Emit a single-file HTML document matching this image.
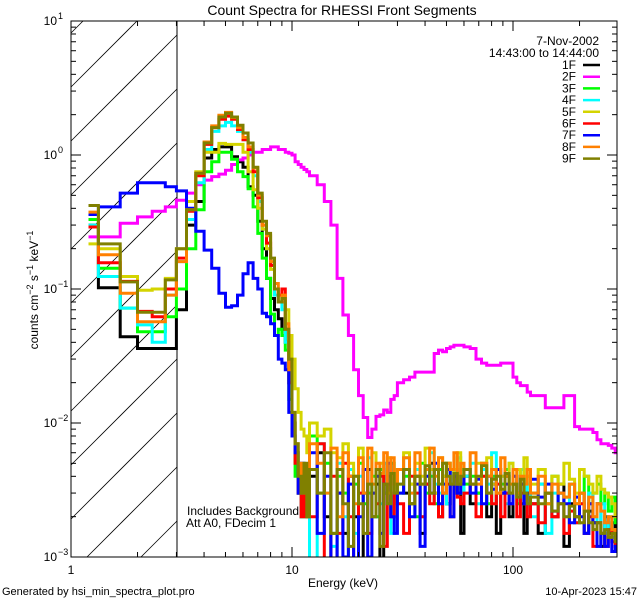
<!DOCTYPE html>
<html><head><meta charset="utf-8"><style>
html,body{margin:0;padding:0;background:#fff;overflow:hidden;width:640px;height:600px;}
svg{display:block;}
svg text{font-family:"Liberation Sans",sans-serif;}
</style></head><body>
<svg id="chart" width="640" height="600" viewBox="0 0 640 600" xmlns="http://www.w3.org/2000/svg">
<defs><clipPath id="plotclip"><rect x="71" y="21" width="546" height="536"/></clipPath></defs>
<rect x="0" y="0" width="640" height="600" fill="#fff"/>
<text x="342" y="15" font-size="14" text-anchor="middle">Count Spectra for RHESSI Front Segments</text>
<g id="hatch"></g>
<line x1="177" y1="21" x2="177" y2="557" stroke="#000" stroke-width="1"/>
<g id="series" clip-path="url(#plotclip)"></g>
<rect x="71" y="21" width="546" height="536" fill="none" stroke="#000" stroke-width="1"/>
<g id="ticks"></g>
<g id="labels" font-size="12"></g>
<text x="599" y="45" font-size="12" text-anchor="end">7-Nov-2002</text>
<text x="599" y="57" font-size="12" text-anchor="end">14:43:00 to 14:44:00</text>
<g id="legend" font-size="12"></g>
<text x="187" y="515" font-size="12">Includes Background</text>
<text x="186" y="527" font-size="12">Att A0, FDecim 1</text>
<text x="343" y="587" font-size="12" text-anchor="middle">Energy (keV)</text>
<text transform="translate(38,290) rotate(-90)" font-size="12" text-anchor="middle">counts cm<tspan dy="-5" font-size="9">−2</tspan><tspan dy="5"> s</tspan><tspan dy="-5" font-size="9">−1</tspan><tspan dy="5"> keV</tspan><tspan dy="-5" font-size="9">−1</tspan></text>
<text x="2" y="595" font-size="11">Generated by hsi_min_spectra_plot.pro</text>
<text x="637" y="595" font-size="11" text-anchor="end">10-Apr-2023 15:47</text>
</svg>
<script>
const edges=[1.2,1.33,1.67,2.0,2.33,2.67,3.0,3.33,3.67,4.0,4.33,4.67,5.0,5.33,5.67,6.0,6.33,6.67,7.0,7.33,7.67,8.0,8.33,8.67,9.0,9.33,9.67,10.0,10.33,10.67,11.0,11.33,11.67,
12,13,14,15,16,17,18,19,20,21,22,23,24,25,26,27,28,29,30,
32,34,36,38,40,42,44,46,48,50,52,54,56,58,60,
64,68,72,76,80,84,88,92,96,100,104,108,112,116,120,
130,140,150,160,170,180,190,200,210,220,230,240,250,260,270,280,290,300];
const seriesNames=["1F","2F","3F","4F","5F","6F","7F","8F","9F"];
const seriesColors=["#000000","#ff00ff","#00ff00","#00ffff","#d4d400","#ff0000","#0000ff","#ff8000","#808000"];
const s1F=[0.30,0.102,0.044,0.036,0.036,0.036,0.07,0.30,0.45,0.95,1.1,1.15,1.15,0.97,0.89,0.81,0.58,0.5,0.32,0.2,0.12,0.085,0.07,0.06,0.05,0.04,0.02,0.01,0.005,0.003,0.002,0.004,0.002,
 0.004,0.006,0.002,0,0.003,0.0015,0.004,0.002,0,0.003,0.0045,0.002,0.0035,0,0.003,0.004,0.002,0.003,
 0.0045,0.003,0.0025,0.004,0.0015,0.0035,0.005,0.003,0.002,0.004,0.0025,0.0035,0.0045,0.003,0.0015,
 0.004,0.0025,0.003,0.0045,0.002,0.0035,0.0015,0.003,0.004,0.002,0.0035,0.003,0.0025,0.0015,0.003,
 0.0025,0.0015,0.003,0.002,0.0035,0.0012,0.0025,0.002,0.003,0.0015,0.0022,0.0018,0.0025,0.0012,0.002,0.0015,0.0018,0.0014];
const s2F=[0.245,0.245,0.31,0.345,0.38,0.41,0.46,0.52,0.6,0.65,0.69,0.72,0.77,0.85,0.92,0.95,1.0,1.05,1.05,1.1,1.1,1.15,1.15,1.1,1.1,1.05,1.03,1.0,0.89,0.85,0.81,0.78,0.75,
 0.7,0.6,0.45,0.3,0.12,0.064,0.045,0.025,0.016,0.011,0.0078,0.009,0.0112,0.0115,0.0125,0.012,0.015,0.016,
 0.02,0.021,0.022,0.024,0.024,0.024,0.024,0.033,0.035,0.034,0.036,0.037,0.038,0.038,0.038,
 0.037,0.036,0.03,0.028,0.027,0.027,0.027,0.028,0.028,0.028,0.022,0.02,0.019,0.019,0.017,
 0.016,0.016,0.013,0.013,0.013,0.016,0.016,0.0094,0.009,0.009,0.009,0.0085,0.0075,0.007,0.007,0.0068,0.0065,0.006];
const s3F=[0.33,0.143,0.072,0.048,0.048,0.062,0.1,0.2,0.39,0.75,0.89,1.05,1.05,0.93,0.75,0.69,0.56,0.41,0.26,0.17,0.12,0.065,0.045,0.05,0.045,0.035,0.015,0.008,0.004,0.003,0.002,0.003,0.002,
 0.008,0.003,0.005,0.0015,0.004,0.003,0,0.0035,0.005,0.0025,0.003,0.004,0.002,0.0045,0.003,0.0035,0.005,0.0025,
 0.003,0.004,0.0035,0.002,0.005,0.003,0.004,0.0025,0.0045,0.003,0.005,0.0035,0.004,0.003,0.0045,
 0.0035,0.004,0.003,0.005,0.0025,0.004,0.003,0.0035,0.0045,0.003,0.004,0.0025,0.0035,0.003,0.004,
 0.003,0.0035,0.0025,0.004,0.003,0.0028,0.0035,0.0025,0.003,0.004,0.0025,0.003,0.0035,0.0025,0.003,0.0022,0.0028,0.0018];
const s4F=[0.30,0.124,0.072,0.054,0.04,0.09,0.16,0.33,0.62,1.1,1.5,1.65,1.75,1.65,1.5,1.3,1.05,0.7,0.45,0.28,0.2,0.15,0.09,0.08,0.07,0.04,0.02,0.01,0.006,0.003,0.002,0.004,0.003,
 0,0.007,0.003,0.0012,0.005,0.002,0.0045,0.0015,0.004,0.003,0.0055,0.002,0.004,0.0025,0.005,0.003,0.0015,0.004,
 0.0035,0.0055,0.003,0.0045,0.002,0.004,0.006,0.0035,0.003,0.005,0.0025,0.0045,0.0035,0.0055,0.003,
 0.004,0.005,0.0025,0.0045,0.0035,0.006,0.003,0.004,0.0025,0.005,0.0035,0.003,0.0045,0.0025,0.0035,
 0.002,0.0035,0.0015,0.003,0.0025,0.002,0.0035,0.0018,0.0025,0.0015,0.003,0.002,0.0018,0.0025,0.0015,0.002,0.0016,0.0014];
const s5F=[0.217,0.2,0.124,0.098,0.1,0.12,0.2,0.45,0.75,1.05,1.05,1.22,1.2,1.2,1.2,1.05,0.75,0.55,0.4,0.28,0.2,0.14,0.1,0.09,0.08,0.07,0.045,0.03,0.018,0.012,0.009,0.008,0.006,
 0.01,0.008,0.009,0.006,0.0055,0.007,0.005,0.004,0.0065,0.0045,0.0035,0.006,0.004,0.005,0.0035,0.0055,0.004,0.003,
 0.0045,0.006,0.0035,0.005,0.004,0.0065,0.0045,0.003,0.0055,0.004,0.005,0.0035,0.0045,0.006,0.004,
 0.0045,0.0035,0.005,0.004,0.0055,0.0035,0.0045,0.004,0.003,0.005,0.0035,0.0045,0.004,0.0055,0.004,
 0.0035,0.0045,0.003,0.004,0.0035,0.005,0.0038,0.003,0.0045,0.004,0.0035,0.003,0.004,0.0032,0.003,0.0028,0.0025,0.002];
const s6F=[0.29,0.157,0.114,0.068,0.062,0.1,0.17,0.38,0.7,1.2,1.6,1.85,1.95,1.85,1.55,1.3,1.1,0.75,0.48,0.3,0.22,0.15,0.1,0.09,0.1,0.05,0.02,0.01,0.005,0.003,0.002,0.003,0.002,
 0.002,0.007,0,0.004,0.0015,0.005,0.002,0,0.003,0.0045,0.0015,0.003,0.0025,0.004,0.0012,0.0035,0.002,0.003,
 0.0025,0.0015,0.004,0.003,0.002,0.0035,0.0025,0.0045,0.002,0.003,0.0035,0.002,0.004,0.0028,0.0025,
 0.003,0.0035,0.002,0.004,0.003,0.0025,0.0035,0.002,0.003,0.0025,0.0035,0.002,0.003,0.0025,0.002,
 0.0025,0.0018,0.003,0.002,0.0025,0.0015,0.0022,0.0018,0.0025,0.0015,0.002,0.0012,0.0018,0.0015,0.0012,0.0016,0.0013,0.0012];
const s7F=[0.36,0.41,0.52,0.62,0.62,0.58,0.54,0.40,0.27,0.195,0.143,0.093,0.073,0.075,0.09,0.13,0.157,0.12,0.1,0.066,0.062,0.055,0.045,0.03,0.028,0.025,0.012,0.008,0.006,0.003,0.005,0.004,0.003,
 0.006,0.0015,0.004,0,0.003,0.001,0.0035,0,0.002,0.0045,0.001,0.003,0.004,0.0015,0.0035,0.005,0.002,0.0015,
 0.003,0.0045,0.002,0.0035,0.0012,0.004,0.003,0.005,0.0025,0.0035,0.0045,0.002,0.004,0.003,0.0035,
 0.0045,0.003,0.0038,0.0025,0.004,0.0032,0.0045,0.003,0.0035,0.0025,0.004,0.003,0.0035,0.0025,0.003,
 0.0038,0.0028,0.0035,0.0022,0.003,0.0025,0.0018,0.0028,0.002,0.0015,0.0025,0.0018,0.0012,0.0015,0.0012,0.0014,0.0011,0.0012];
const s8F=[0.375,0.18,0.093,0.057,0.057,0.09,0.16,0.39,0.73,1.25,1.65,1.98,2.08,1.9,1.6,1.35,1.15,0.8,0.5,0.3,0.25,0.16,0.11,0.08,0.09,0.055,0.025,0.012,0.007,0.005,0.003,0.004,0.003,
 0.007,0.005,0.003,0.0065,0.002,0.006,0.004,0.0025,0.0055,0.003,0.0065,0.0035,0.005,0.0042,0.006,0.003,0.0055,0.0035,
 0.0045,0.0055,0.003,0.006,0.0035,0.0045,0.0065,0.004,0.0055,0.003,0.005,0.0045,0.006,0.0035,0.005,
 0.0045,0.006,0.0035,0.005,0.004,0.0045,0.003,0.0055,0.004,0.0035,0.0045,0.003,0.004,0.0035,0.0045,
 0.003,0.004,0.0025,0.0035,0.003,0.0028,0.0035,0.0025,0.003,0.0022,0.0028,0.002,0.0025,0.0022,0.0018,0.002,0.0016,0.0015];
const s9F=[0.42,0.217,0.113,0.067,0.067,0.117,0.2,0.39,0.73,1.23,1.6,1.92,2.05,1.92,1.67,1.46,1.23,0.81,0.52,0.32,0.26,0.17,0.1,0.08,0.085,0.05,0.03,0.012,0.007,0.004,0.003,0.005,0.002,
 0.0045,0.003,0.006,0.0015,0.0045,0.0025,0.0012,0.004,0.0025,0.0015,0.0035,0.002,0.0045,0.0012,0.0035,0.0025,0.0042,0.003,
 0.0035,0.0045,0.0025,0.004,0.0035,0.0048,0.003,0.0045,0.0035,0.005,0.004,0.0035,0.0042,0.0035,0.004,
 0.0045,0.0035,0.004,0.0048,0.003,0.0038,0.004,0.0032,0.0042,0.003,0.0035,0.0028,0.0038,0.003,0.0025,
 0.0028,0.0025,0.003,0.0022,0.0025,0.002,0.0024,0.002,0.0018,0.0022,0.0018,0.0016,0.0018,0.0015,0.0016,0.0014,0.0015,0.0013];
const seriesValues=[s1F,s2F,s3F,s4F,s5F,s6F,s7F,s8F,s9F];
const xTickLabels=["1","10","100"];
const yTickExps=["1","0","-1","-2","-3"];

const NS="http://www.w3.org/2000/svg";
const X0=71,X1=617,Y0=21,Y1=557,PXD=221,PYD=134,XH=177;
function xs(e){return X0+Math.log10(e)*PXD;}
function ys(v){if(v<=0)return Y1+3;return Math.min(Y1+3,Y0+(1-Math.log10(v))*PYD);}
function mk(tag,attrs,parent){const el=document.createElementNS(NS,tag);for(const k in attrs)el.setAttribute(k,attrs[k]);parent.appendChild(el);return el;}

// hatch lines y = c - (x - X0), clipped manually to [X0,XH]x[Y0,Y1]
const hatch=document.getElementById('hatch');
for(let c=33-54*2;c<Y1+(XH-X0)+54;c+=54){
  let xa=X0,ya=c,xb=XH,yb=c-(XH-X0);
  if(ya>Y1){xa=X0+(ya-Y1);ya=Y1;}
  if(yb<Y0){xb=X0+(c-Y0);yb=Y0;}
  if(xa>=xb||xa>XH||xb<X0)continue;
  const ln=mk('line',{x1:xa,y1:ya,x2:xb,y2:yb,stroke:'#000','stroke-width':0.8},hatch);
  
  
}

const sg=document.getElementById('series');
seriesValues.forEach((vals,si)=>{
  let d='';
  const n=Math.min(vals.length,edges.length-1);
  for(let i=0;i<n;i++){
    const xa=xs(edges[i]),xb=Math.min(X1+2,xs(edges[i+1])),y=ys(vals[i]);
    d+=(i===0?'M':'L')+xa.toFixed(1)+','+y.toFixed(1)+'L'+xb.toFixed(1)+','+y.toFixed(1);
  }
  const p=mk('path',{d:d,fill:'none',stroke:seriesColors[si],'stroke-width':3,'stroke-linejoin':'miter'},sg);
  
  
});

const tg=document.getElementById('ticks');
function tick(x1,y1,x2,y2){const t=mk('line',{x1:x1,y1:y1,x2:x2,y2:y2,stroke:'#000','stroke-width':1},tg);
  
  }
for(let dec=0;dec<3;dec++){
  for(let m=1;m<10;m++){
    const e=m*Math.pow(10,dec);const x=xs(e);if(x>X1)break;
    const L=(m===1)?10:5;
    tick(x,Y1,x,Y1-L);tick(x,Y0,x,Y0+L);
  }
}
for(let dec=-3;dec<1;dec++){
  for(let m=1;m<10;m++){
    const y=Y0+(1-Math.log10(m*Math.pow(10,dec)))*PYD;
    const L=(m===1)?10:5;
    tick(X0,y,X0+L,y);tick(X1,y,X1-L,y);
  }
}
tick(X0,Y0,X0+10,Y0);tick(X1,Y0,X1-10,Y0);

const lg=document.getElementById('labels');
xTickLabels.forEach((lab,i)=>{
  const t=mk('text',{x:xs(Math.pow(10,i)),y:574,'text-anchor':'middle'},lg);
  t.textContent=lab;
  
  
});
yTickExps.forEach((ex,i)=>{
  const y=Y0+(1-(+ex))*PYD;
  const t=mk('text',{x:57,y:y+4,'text-anchor':'end'},lg);
  t.textContent='10';
  
  
  const s=mk('text',{x:58,y:y-2,'font-size':9},lg);
  s.textContent=ex.replace('-','−');
  
  
});

const leg=document.getElementById('legend');
seriesNames.forEach((nm,i)=>{
  const y=65+i*11.7;
  const t=mk('text',{x:576,y:y+4,'text-anchor':'end'},leg);
  t.textContent=nm;
  
  
  const l=mk('line',{x1:583,y1:y,x2:600,y2:y,stroke:seriesColors[i],'stroke-width':2.5},leg);
  
  
});
</script>
</body></html>
